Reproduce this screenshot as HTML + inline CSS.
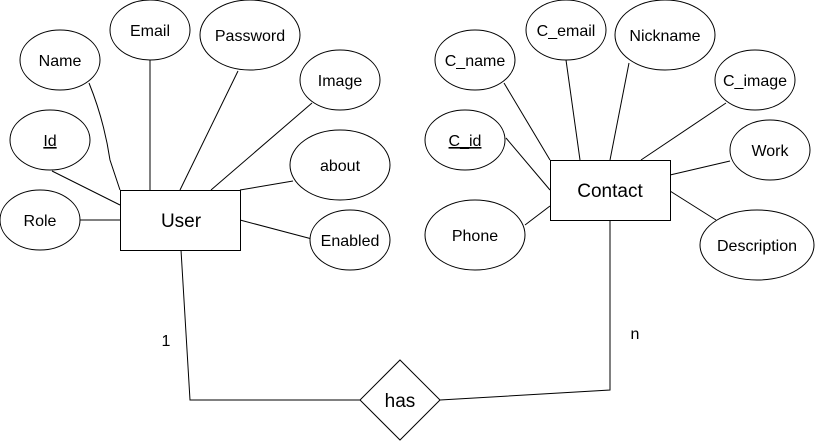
<!DOCTYPE html>
<html><head><meta charset="utf-8"><style>
html,body{margin:0;padding:0;background:#fff;}
svg{display:block;}
text{font-family:"Liberation Sans",Arial,sans-serif;fill:#000;}
</style></head><body>
<svg width="816" height="441" viewBox="0 0 816 441" xmlns="http://www.w3.org/2000/svg">
<g stroke="#000" stroke-width="1" fill="none">
<!-- user lines -->
<path d="M89,83 Q104,120 110,160 L120,190"/>
<line x1="150" y1="60" x2="150" y2="190"/>
<line x1="238" y1="71" x2="180" y2="190"/>
<line x1="312" y1="103" x2="211" y2="190"/>
<line x1="52" y1="171" x2="120" y2="205"/>
<line x1="80" y1="220" x2="120" y2="220"/>
<line x1="293" y1="181" x2="240" y2="190"/>
<line x1="312" y1="239" x2="240" y2="220"/>
<!-- contact lines -->
<line x1="504" y1="83" x2="550" y2="160"/>
<line x1="566" y1="60" x2="580" y2="160"/>
<line x1="629" y1="63" x2="610" y2="160"/>
<line x1="726" y1="103" x2="641" y2="160"/>
<line x1="506" y1="138" x2="550" y2="190"/>
<line x1="525" y1="225" x2="550" y2="206"/>
<line x1="730" y1="161" x2="670" y2="175"/>
<line x1="716" y1="220" x2="670" y2="191"/>
<!-- relationship -->
<polyline points="181,250 190,400 360,400"/>
<polyline points="440,400 610,390 610,220"/>
</g>
<g stroke="#000" stroke-width="1" fill="#fff">
<ellipse cx="150" cy="30" rx="40" ry="30"/>
<ellipse cx="250" cy="35" rx="50" ry="35"/>
<ellipse cx="60" cy="60" rx="40" ry="30"/>
<ellipse cx="340" cy="80" rx="40" ry="30"/>
<ellipse cx="50" cy="140" rx="40" ry="30"/>
<ellipse cx="340" cy="165" rx="50" ry="35"/>
<ellipse cx="40" cy="220" rx="40" ry="30"/>
<ellipse cx="350" cy="240" rx="40" ry="30"/>
<rect x="120.5" y="190.5" width="120" height="60"/>
<ellipse cx="566" cy="30" rx="40" ry="30"/>
<ellipse cx="665" cy="35" rx="50" ry="35"/>
<ellipse cx="475" cy="60" rx="40" ry="30"/>
<ellipse cx="755" cy="80" rx="40" ry="30"/>
<ellipse cx="465" cy="140" rx="40" ry="30"/>
<ellipse cx="770" cy="150" rx="40" ry="30"/>
<ellipse cx="475" cy="235" rx="50" ry="35"/>
<ellipse cx="757" cy="245" rx="57" ry="35"/>
<rect x="550.5" y="160.5" width="120" height="60"/>
<polygon points="400,360 440,400 400,440 360,400"/>
</g>
<g font-size="16" text-anchor="middle">
<text x="150" y="36">Email</text>
<text x="250" y="41">Password</text>
<text x="60" y="66">Name</text>
<text x="340" y="86">Image</text>
<text x="50" y="146" text-decoration="underline">Id</text>
<text x="340" y="171">about</text>
<text x="40" y="226">Role</text>
<text x="350" y="246">Enabled</text>
<text x="181" y="227" font-size="19">User</text>
<text x="566" y="36">C_email</text>
<text x="665" y="41">Nickname</text>
<text x="475" y="66">C_name</text>
<text x="755" y="86">C_image</text>
<text x="465" y="146" text-decoration="underline">C_id</text>
<text x="770" y="156">Work</text>
<text x="475" y="241">Phone</text>
<text x="757" y="251">Description</text>
<text x="610" y="197" font-size="19">Contact</text>
<text x="400" y="407" font-size="19">has</text>
<text x="166" y="346">1</text>
<text x="635" y="339">n</text>
</g>
</svg>
</body></html>
